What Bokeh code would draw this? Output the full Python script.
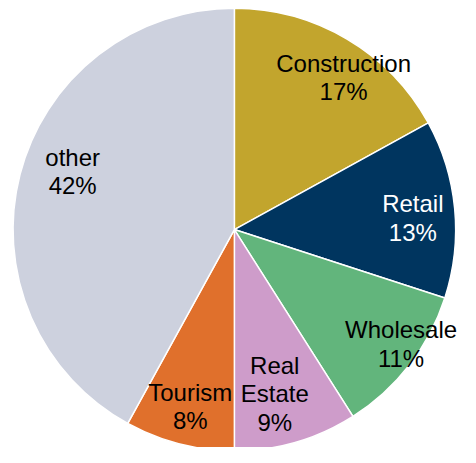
import math
from bokeh.plotting import figure
from bokeh.models import ColumnDataSource
from bokeh.core.properties import value
from bokeh.embed import file_html
from bokeh.resources import INLINE

# Data (clockwise from 12 o'clock)
categories = ["Construction", "Retail", "Wholesale", "Real\nEstate", "Tourism", "other"]
shares = [17, 13, 11, 9, 8, 42]
colors = ["#C2A52D", "#00355F", "#62B57C", "#CE9CCA", "#E0702C", "#CDD1DE"]
label_colors = ["black", "white", "black", "black", "black", "black"]

# layout (reference measured in a 476x463 frame, scaled to fit 460x447)
W, H = 460, 447
S = W / 476.0
CX, CY = 242 * S, 237 * S       # pie centre, pixels from top-left of figure
R = 229 * S
label_r = [0.846, 0.808, 0.914, 0.765, 0.824, 0.776]
label_dang = [5.1, 1.7, -3.3, 2.4, -0.4, 5.3]   # degrees, clockwise

total = float(sum(shares))
starts, ends, lx, ly, texts = [], [], [], [], []
cum = 0.0
for i, (c, s) in enumerate(zip(categories, shares)):
    a0 = math.pi / 2 - 2 * math.pi * cum / total
    a1 = math.pi / 2 - 2 * math.pi * (cum + s) / total
    starts.append(a0)
    ends.append(a1)
    mid = (a0 + a1) / 2 - math.radians(label_dang[i])
    lx.append(label_r[i] * R * math.cos(mid))
    ly.append(label_r[i] * R * math.sin(mid))
    texts.append(f"{c}\n{s}%")
    cum += s

src = ColumnDataSource(dict(start=starts, end=ends, color=colors))
lsrc = ColumnDataSource(dict(x=lx, y=ly, text=texts, tc=label_colors))

p = figure(width=W, height=H, output_backend="svg", toolbar_location=None,
           x_range=(-CX, W - CX), y_range=(-(H - CY), CY), min_border=0)
p.axis.visible = False
p.grid.visible = False
p.outline_line_color = None
p.background_fill_color = "white"
p.border_fill_color = "white"

p.wedge(x=0, y=0, radius=R, start_angle="start", end_angle="end", direction="clock",
        fill_color="color", line_color="white", line_width=1.5, source=src)

p.text(x="x", y="y", text="text", text_color="tc", source=lsrc,
       text_font=value("Liberation Sans"), text_font_size="24px",
       text_align="center", text_baseline="middle", text_line_height=1.05)

open("out.html", "w").write(file_html(p, INLINE))
